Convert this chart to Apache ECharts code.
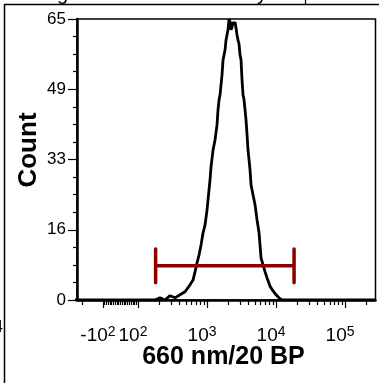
<!DOCTYPE html>
<html><head><meta charset="utf-8">
<script src="https://cdn.jsdelivr.net/npm/echarts@6/dist/echarts.min.js"></script>
<style>html,body{margin:0;padding:0;background:#fff}#c{width:379px;height:383px}</style>
</head><body><div id="c"></div>
<script>
// histogram: fluorescence (raw, biexponential axis) vs count
const fluorValues = [-276, -200, -150, -100, -60, -30, 0, 30, 60, 100, 149, 176, 208, 246, 291, 344, 406, 480, 513, 567, 627, 670, 716, 766, 819, 875, 935, 1000, 1033, 1105, 1143, 1222, 1306, 1396, 1443, 1493, 1542, 1648, 1706, 1824, 1884, 2014, 2084, 2154, 2228, 2303, 2382, 2462, 2547, 2630, 2723, 2812, 2911, 3006, 3111, 3214, 3327, 3436, 3556, 3673, 3802, 3926, 4064, 4198, 4345, 4645, 4966, 5309, 5675, 5861, 6067, 6486, 6934, 7413, 8185, 9057, 10000, 11041, 12218, 13490, 30000, 100000, 276000];
const counts = [0, 0, 0, 0, 0, 0, 0, 0, 0, 0, 0, 0, 0.5, 0, 1, 0.5, 1.2, 1.9, 2.3, 3.5, 4.6, 6.5, 8.6, 10.4, 12.7, 15.5, 17.3, 20.8, 23.1, 27.8, 30.8, 34.7, 37, 40.5, 44, 46.3, 47.4, 52, 55.5, 57.8, 60.1, 62.5, 65, 64.3, 62.5, 63.1, 64.3, 63.8, 64.3, 62.9, 61.3, 60.1, 59.2, 56.7, 55.5, 50.9, 47.4, 46.3, 44, 41.6, 38.2, 34.7, 32.4, 30.1, 26.6, 24.3, 22, 18.5, 15.5, 12.7, 9.7, 8.1, 6.5, 5.1, 3.2, 2.1, 1.2, 0.5, 0, 0, 0, 0, 0];
const yTickValues = [0, 16.25, 32.5, 48.75, 65];
const xLabelTicks = [-100, 100, 1000, 10000, 100000];
const xLabelExps = [2, 2, 3, 4, 5];
const xMinorTicks = [-200, -90, -80, -70, -60, -50, -40, -30, -20, -10, 0, 10, 20, 30, 40, 50, 60, 70, 80, 90,
  200, 300, 400, 500, 600, 700, 800, 900, 2000, 3000, 4000, 5000, 6000, 7000, 8000, 9000,
  20000, 30000, 40000, 50000, 60000, 70000, 80000, 90000, 200000];
const xMinRaw = -238, xMaxRaw = 276000;
const gateLow = 180, gateHigh = 18240, gateCount = 7.9, gateCap = 3.9;
const xTitle = '660 nm/20 BP', yTitle = 'Count';

function biex(v) {
  const a = Math.abs(v);
  const u = a <= 100 ? 0.175 * a : 17.5 + 69 * Math.log10(a / 100);
  return v < 0 ? -u : u;
}

const FONT = 'Liberation Sans, Arial, sans-serif';
const chart = echarts.init(document.getElementById('c'), null, {renderer: 'canvas'});
const xScale = {type: 'value', min: biex(xMinRaw), max: biex(xMaxRaw), gridIndex: 0, splitLine: {show: false}};
const gateColor = '#8b0000';
const labelMap = {};
xLabelTicks.forEach((t, i) => { labelMap[biex(t).toFixed(4)] = (t < 0 ? '-10' : '10') + '|' + xLabelExps[i]; });

chart.setOption({
  animation: false,
  grid: {left: 77, top: 19, right: 3.5, bottom: 83, show: true, borderColor: '#000', borderWidth: 1.5},
  xAxis: [
    Object.assign({}, xScale, {
      position: 'bottom',
      axisLine: {show: true, onZero: false, lineStyle: {color: '#000', width: 2.5}},
      axisTick: {show: true, length: 8, lineStyle: {color: '#000', width: 1.2}, customValues: xLabelTicks.map(biex)},
      axisLabel: {
        show: true, margin: 25, customValues: xLabelTicks.map(biex),
        formatter: v => {
          const s = labelMap[Number(v).toFixed(4)];
          if (!s) return '';
          const p = s.split('|');
          return '{b|' + p[0] + '}{s|' + p[1] + '}';
        },
        padding: [0, 10, 0, 0],
        rich: {
          b: {fontFamily: FONT, fontSize: 19, color: '#000', lineHeight: 22},
          s: {fontFamily: FONT, fontSize: 14, color: '#000', lineHeight: 14, verticalAlign: 'top'}
        }
      }
    }),
    Object.assign({}, xScale, {
      position: 'bottom',
      axisLine: {show: false, onZero: false},
      axisTick: {show: true, length: 5, lineStyle: {color: '#000', width: 1.2}, customValues: xMinorTicks.map(biex)},
      axisLabel: {show: false}
    })
  ],
  yAxis: {
    type: 'value', min: 0, max: 65, interval: 16.25,
    axisLine: {show: true, onZero: false, lineStyle: {color: '#000', width: 2.5}},
    axisTick: {show: true, length: 9, lineStyle: {color: '#000', width: 1.2}},
    minorTick: {show: true, splitNumber: 4, length: 4, lineStyle: {color: '#000', width: 1.2}},
    splitLine: {show: false},
    axisLabel: {fontFamily: FONT, fontSize: 17, color: '#000', margin: 11, formatter: v => String(Math.round(v))}
  },
  series: [
    {type: 'line', xAxisIndex: 0, data: fluorValues.map((v, i) => [biex(v), counts[i]]), showSymbol: false,
     lineStyle: {color: '#000', width: 2.8}, clip: true, z: 3},
    {type: 'line', data: [[biex(gateLow), gateCount], [biex(gateHigh), gateCount]], showSymbol: false,
     lineStyle: {color: gateColor, width: 3.5, cap: 'butt'}, z: 4},
    {type: 'line', data: [[biex(gateLow), gateCount - gateCap], [biex(gateLow), gateCount + gateCap]], showSymbol: false,
     lineStyle: {color: gateColor, width: 3.5, cap: 'round'}, z: 4},
    {type: 'line', data: [[biex(gateHigh), gateCount - gateCap], [biex(gateHigh), gateCount + gateCap]], showSymbol: false,
     lineStyle: {color: gateColor, width: 3.5, cap: 'round'}, z: 4}
  ],
  graphic: [
    {type: 'line', shape: {x1: 4, y1: 4.5, x2: 379, y2: 4.5}, style: {stroke: '#000', lineWidth: 1.5}},
    {type: 'line', shape: {x1: 4.5, y1: 4, x2: 4.5, y2: 383}, style: {stroke: '#000', lineWidth: 1.5}},
    {type: 'line', shape: {x1: 305.5, y1: 0, x2: 305.5, y2: 4}, style: {stroke: '#000', lineWidth: 1.2}},
    {type: 'text', x: 3, y: 328, style: {text: '4', fontFamily: FONT, fontSize: 16, fill: '#000', align: 'right', verticalAlign: 'middle'}},
    {type: 'text', x: 57, y: 4, style: {text: 'g', fontFamily: FONT, fontSize: 20, fill: '#000', align: 'left', verticalAlign: 'bottom'}},
    {type: 'text', x: 257, y: 4, style: {text: 'y', fontFamily: FONT, fontSize: 20, fill: '#000', align: 'left', verticalAlign: 'bottom'}},
    {type: 'text', x: 223.5, y: 357, style: {text: xTitle, fontFamily: FONT, fontSize: 25, fontWeight: 'bold', fill: '#000', align: 'center', verticalAlign: 'middle'}},
    {type: 'text', x: 29, y: 150, rotation: Math.PI / 2, style: {text: yTitle, fontFamily: FONT, fontSize: 26, fontWeight: 'bold', fill: '#000', align: 'center', verticalAlign: 'middle'}}
  ]
});
</script></body></html>
